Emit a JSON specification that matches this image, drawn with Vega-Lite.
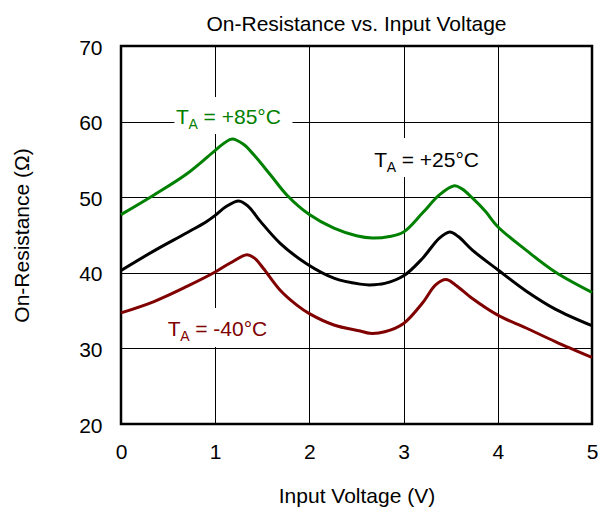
{
  "$schema": "https://vega.github.io/schema/vega-lite/v6.json",
  "width": 471,
  "height": 378,
  "autosize": {"type": "none"},
  "padding": {"left": 121, "top": 46, "right": 9, "bottom": 83},
  "background": "white",
  "config": {
    "view": {"stroke": "#000", "strokeWidth": 2.5},
    "font": "Liberation Sans"
  },
  "title": {
    "text": "On-Resistance vs. Input Voltage",
    "fontSize": 21,
    "fontWeight": "normal",
    "font": "Liberation Sans",
    "color": "#000",
    "anchor": "middle",
    "frame": "group",
    "baseline": "alphabetic",
    "offset": -15
  },
  "datasets": {
    "curves": [
      {"s": "+85°C", "v": 0, "r": 47.7},
      {"s": "+85°C", "v": 0.35, "r": 50.3},
      {"s": "+85°C", "v": 0.7, "r": 53.1},
      {"s": "+85°C", "v": 1.0, "r": 56.2},
      {"s": "+85°C", "v": 1.1, "r": 57.2},
      {"s": "+85°C", "v": 1.18, "r": 57.7},
      {"s": "+85°C", "v": 1.3, "r": 57.0},
      {"s": "+85°C", "v": 1.41, "r": 55.6},
      {"s": "+85°C", "v": 1.59, "r": 52.9},
      {"s": "+85°C", "v": 1.76, "r": 50.3},
      {"s": "+85°C", "v": 2.0, "r": 47.7},
      {"s": "+85°C", "v": 2.26, "r": 45.9},
      {"s": "+85°C", "v": 2.5, "r": 44.9},
      {"s": "+85°C", "v": 2.67, "r": 44.6},
      {"s": "+85°C", "v": 2.85, "r": 44.8},
      {"s": "+85°C", "v": 3.0, "r": 45.4},
      {"s": "+85°C", "v": 3.2, "r": 47.9},
      {"s": "+85°C", "v": 3.38, "r": 50.3},
      {"s": "+85°C", "v": 3.54, "r": 51.5},
      {"s": "+85°C", "v": 3.62, "r": 51.1},
      {"s": "+85°C", "v": 3.73, "r": 49.9},
      {"s": "+85°C", "v": 3.87, "r": 48.1},
      {"s": "+85°C", "v": 4.0, "r": 46.1},
      {"s": "+85°C", "v": 4.3, "r": 43.0},
      {"s": "+85°C", "v": 4.61, "r": 40.1},
      {"s": "+85°C", "v": 5.0, "r": 37.4},
      {"s": "+25°C", "v": 0, "r": 40.3},
      {"s": "+25°C", "v": 0.35, "r": 42.9},
      {"s": "+25°C", "v": 0.7, "r": 45.3},
      {"s": "+25°C", "v": 0.91, "r": 46.8},
      {"s": "+25°C", "v": 1.0, "r": 47.6},
      {"s": "+25°C", "v": 1.12, "r": 48.8},
      {"s": "+25°C", "v": 1.25, "r": 49.5},
      {"s": "+25°C", "v": 1.35, "r": 48.8},
      {"s": "+25°C", "v": 1.48, "r": 46.8},
      {"s": "+25°C", "v": 1.69, "r": 43.9},
      {"s": "+25°C", "v": 1.97, "r": 41.2},
      {"s": "+25°C", "v": 2.26, "r": 39.3},
      {"s": "+25°C", "v": 2.54, "r": 38.5},
      {"s": "+25°C", "v": 2.64, "r": 38.4},
      {"s": "+25°C", "v": 2.8, "r": 38.6},
      {"s": "+25°C", "v": 3.0, "r": 39.6},
      {"s": "+25°C", "v": 3.2, "r": 41.9},
      {"s": "+25°C", "v": 3.38, "r": 44.6},
      {"s": "+25°C", "v": 3.49, "r": 45.4},
      {"s": "+25°C", "v": 3.58, "r": 44.8},
      {"s": "+25°C", "v": 3.73, "r": 43.0},
      {"s": "+25°C", "v": 4.0, "r": 40.4},
      {"s": "+25°C", "v": 4.3, "r": 37.6},
      {"s": "+25°C", "v": 4.61, "r": 35.2},
      {"s": "+25°C", "v": 5.0, "r": 33.0},
      {"s": "-40°C", "v": 0, "r": 34.7},
      {"s": "-40°C", "v": 0.35, "r": 36.2},
      {"s": "-40°C", "v": 0.7, "r": 38.2},
      {"s": "-40°C", "v": 1.0, "r": 40.1},
      {"s": "-40°C", "v": 1.16, "r": 41.3},
      {"s": "-40°C", "v": 1.34, "r": 42.4},
      {"s": "-40°C", "v": 1.42, "r": 41.9},
      {"s": "-40°C", "v": 1.51, "r": 40.6},
      {"s": "-40°C", "v": 1.69, "r": 37.7},
      {"s": "-40°C", "v": 1.87, "r": 35.7},
      {"s": "-40°C", "v": 2.0, "r": 34.6},
      {"s": "-40°C", "v": 2.26, "r": 33.1},
      {"s": "-40°C", "v": 2.54, "r": 32.3},
      {"s": "-40°C", "v": 2.64, "r": 32.0},
      {"s": "-40°C", "v": 2.8, "r": 32.2},
      {"s": "-40°C", "v": 3.0, "r": 33.3},
      {"s": "-40°C", "v": 3.2, "r": 36.0},
      {"s": "-40°C", "v": 3.34, "r": 38.4},
      {"s": "-40°C", "v": 3.45, "r": 39.1},
      {"s": "-40°C", "v": 3.55, "r": 38.4},
      {"s": "-40°C", "v": 3.73, "r": 36.6},
      {"s": "-40°C", "v": 4.0, "r": 34.4},
      {"s": "-40°C", "v": 4.3, "r": 32.7},
      {"s": "-40°C", "v": 4.61, "r": 30.9},
      {"s": "-40°C", "v": 5.0, "r": 28.8}
    ],
    "labels": [
      {"s": "+85°C", "v": 0.585, "r": 59.68, "v2": 1.82, "r2": 63.25, "vb": 0.567, "rb": 58.36, "rest": "= +85°C"},
      {"s": "+25°C", "v": 2.688, "r": 54.03, "v2": 3.833, "r2": 57.83, "vb": 2.667, "rb": 52.67, "rest": "= +25°C"},
      {"s": "-40°C", "v": 0.496, "r": 31.68, "v2": 1.575, "r2": 35.34, "vb": 0.467, "rb": 30.19, "rest": "= -40°C"}
    ]
  },
  "encoding": {
    "x": {
      "field": "v",
      "type": "quantitative",
      "title": "Input Voltage (V)",
      "scale": {"domain": [0, 5], "nice": false, "zero": false},
      "axis": {
        "values": [0, 1, 2, 3, 4, 5],
        "grid": true,
        "gridColor": "#000",
        "gridWidth": 1,
        "gridOpacity": 1,
        "domain": false,
        "ticks": false,
        "tickSize": 0,
        "labelFontSize": 21,
        "labelColor": "#000",
        "labelFont": "Liberation Sans",
        "labelPadding": 34,
        "labelBaseline": "alphabetic",
        "labelFlush": false,
        "labelOverlap": false,
        "titleFontSize": 21,
        "titleFontWeight": "normal",
        "titleFont": "Liberation Sans",
        "titleColor": "#000",
        "titleBaseline": "alphabetic",
        "titleY": 78
      }
    },
    "y": {
      "field": "r",
      "type": "quantitative",
      "title": "On-Resistance (Ω)",
      "scale": {"domain": [20, 70], "nice": false, "zero": false},
      "axis": {
        "values": [20, 30, 40, 50, 60, 70],
        "grid": true,
        "gridColor": "#000",
        "gridWidth": 1,
        "gridOpacity": 1,
        "domain": false,
        "ticks": false,
        "tickSize": 0,
        "labelFontSize": 21,
        "labelColor": "#000",
        "labelFont": "Liberation Sans",
        "labelPadding": 19,
        "labelBaseline": "alphabetic",
        "labelOffset": 8,
        "labelOverlap": false,
        "titleFontSize": 21,
        "titleFontWeight": "normal",
        "titleFont": "Liberation Sans",
        "titleColor": "#000",
        "titleBaseline": "alphabetic",
        "titleAngle": 270,
        "titleX": -93,
        "titleY": 189
      }
    },
    "color": {
      "field": "s",
      "type": "nominal",
      "scale": {"domain": ["+85°C", "+25°C", "-40°C"], "range": ["#008000", "#000000", "#800000"]},
      "legend": null
    }
  },
  "layer": [
    {
      "data": {"name": "labels"},
      "mark": {"type": "rect", "fill": "white", "stroke": null},
      "encoding": {
        "x": {"field": "vb", "type": "quantitative"},
        "x2": {"field": "v2"},
        "y": {"field": "rb", "type": "quantitative"},
        "y2": {"field": "r2"},
        "color": {"value": "white"}
      }
    },
    {
      "data": {"name": "curves"},
      "mark": {"type": "line", "strokeWidth": 3, "interpolate": "catmull-rom"}
    },
    {
      "data": {"name": "labels"},
      "mark": {"type": "text", "text": "T", "align": "left", "baseline": "alphabetic", "fontSize": 21, "font": "Liberation Sans"}
    },
    {
      "data": {"name": "labels"},
      "mark": {"type": "text", "text": "A", "align": "left", "baseline": "alphabetic", "fontSize": 14, "dx": 12.5, "dy": 5, "font": "Liberation Sans"}
    },
    {
      "data": {"name": "labels"},
      "mark": {"type": "text", "align": "left", "baseline": "alphabetic", "fontSize": 21, "dx": 27.5, "font": "Liberation Sans"},
      "encoding": {"text": {"field": "rest"}}
    }
  ]
}
